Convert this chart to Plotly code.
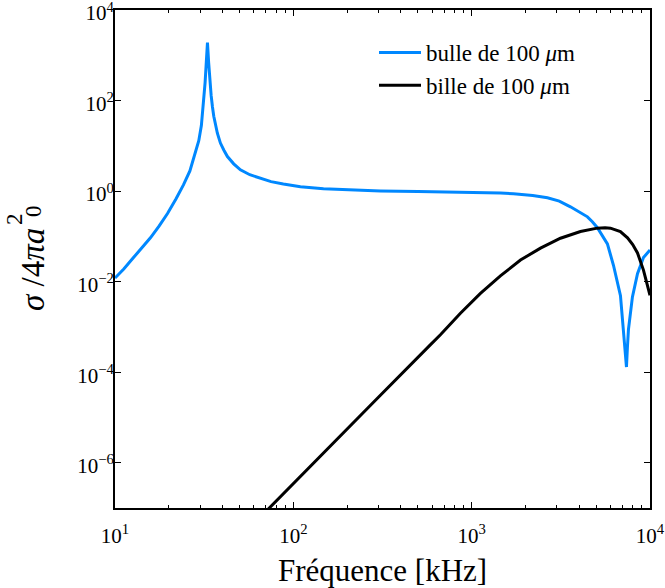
import plotly.graph_objects as go

# ---------------- data ----------------
bubble_freq_khz = [10, 11.2, 12.7, 14.1, 15.8, 17.7, 19.7, 22.0, 24.2, 26.3, 28.3, 29.5,
                   30.5, 31.3, 32.0, 32.5, 33.0, 33.5, 34.0, 34.6, 35.2, 35.8, 37.5, 39.0,
                   40.8, 42.7, 46.3, 50.5, 57, 65.3, 75, 87.9, 109.6, 147.6, 200, 308, 500,
                   731, 1000, 1450, 1715, 2200, 2660, 3100, 3580, 4000, 4460, 4750, 5070,
                   5770, 6240, 6830, 7100, 7250, 7380, 7470, 7570, 7970, 8510, 9190, 9800,
                   10000]
bubble_sigma = [0.012, 0.019, 0.034, 0.055, 0.093, 0.17, 0.32, 0.68, 1.37, 2.8, 7.0, 13,
                28, 80, 250, 700, 1900, 700, 300, 130, 72, 45, 19, 11.5,
                8.0, 5.8, 4.0, 2.95, 2.3, 1.9, 1.62, 1.44, 1.25, 1.12, 1.06, 1.01, 0.98,
                0.96, 0.94, 0.91, 0.87, 0.80, 0.71, 0.60, 0.45, 0.35, 0.27, 0.21, 0.155,
                0.068, 0.023, 0.0049, 0.00087, 0.00035, 0.00013, 0.00035, 0.00087, 0.0046,
                0.015, 0.034, 0.046, 0.05]

bead_freq_khz = [70, 100, 209, 300, 586, 668, 865, 1120, 1449, 1878, 2432, 3148, 4075,
                 5056, 5600, 6000, 6823, 7480, 8000, 8510, 9190, 9800, 10000]
bead_sigma = [8.3e-8, 3.5e-7, 6.6e-6, 2.8e-5, 4.0e-4, 6.7e-4, 2.0e-3, 5.5e-3, 0.0134,
              0.030, 0.055, 0.091, 0.128, 0.152, 0.155, 0.152, 0.128, 0.093, 0.066,
              0.043, 0.018, 0.0065, 0.005]

series_names = ["bulle de 100 <i>μ</i>m", "bille de 100 <i>μ</i>m"]

x_tick_vals = [10, 100, 1000, 10000]
x_tick_text = ["10<sup>1</sup>", "10<sup>2</sup>", "10<sup>3</sup>", "10<sup>4</sup>"]
y_tick_vals = [1e-6, 1e-4, 1e-2, 1e0, 1e2, 1e4]
y_tick_text = ["10<sup>−6</sup>", "10<sup>−4</sup>", "10<sup>−2</sup>",
               "10<sup>0</sup>", "10<sup>2</sup>", "10<sup>4</sup>"]
x_minor_vals = [m * d for d in (10, 100, 1000) for m in range(2, 10)]

FONT = "Liberation Serif"
W, H = 665, 588
ML, MR, MT, MB = 115, 15, 10, 80
PW, PH = W - ML - MR, H - MT - MB


def px_x(px):
    return (px - ML) / PW


def px_y(py):
    return 1 - (py - MT) / PH


fig = go.Figure()
fig.add_trace(go.Scatter(x=bubble_freq_khz, y=bubble_sigma, mode="lines",
                         name=series_names[0],
                         line=dict(color="#0088ff", width=3)))
fig.add_trace(go.Scatter(x=bead_freq_khz, y=bead_sigma, mode="lines",
                         name=series_names[1],
                         line=dict(color="black", width=3)))

axis_common = dict(
    type="log", showgrid=False, zeroline=False, automargin=False,
    showline=True, linecolor="black", linewidth=2, mirror="allticks",
    ticks="inside", ticklen=6, tickwidth=1, tickcolor="black",
    tickfont=dict(family=FONT, size=21, color="black"),
    ticklabeloverflow="allow",
)

fig.update_xaxes(range=[1, 4], tickmode="array", tickvals=x_tick_vals,
                 ticktext=x_tick_text, ticklabelstandoff=8,
                 minor=dict(ticks="inside", ticklen=3, tickwidth=1, tickcolor="black",
                            tickmode="array", tickvals=x_minor_vals, showgrid=False),
                 **axis_common)
fig.update_yaxes(range=[-7, 4], tickmode="array", tickvals=y_tick_vals,
                 ticktext=y_tick_text, ticklabelstandoff=-5, ticklabelshift=3,
                 **axis_common)

annotations = [
    dict(text="Fréquence [kHz]", x=0.5, y=px_y(570), xref="paper", yref="paper",
         xanchor="center", yanchor="middle", showarrow=False,
         font=dict(family=FONT, size=31, color="black")),
    dict(text="<i>σ</i> /4<i>πa</i>", x=px_x(33), y=px_y(270), xref="paper", yref="paper",
         xanchor="center", yanchor="middle", textangle=-90, showarrow=False,
         font=dict(family=FONT, size=33, color="black")),
    dict(text="2", x=px_x(14), y=px_y(219), xref="paper", yref="paper",
         xanchor="center", yanchor="middle", textangle=-90, showarrow=False,
         font=dict(family=FONT, size=23, color="black")),
    dict(text="0", x=px_x(33), y=px_y(211), xref="paper", yref="paper",
         xanchor="center", yanchor="middle", textangle=-90, showarrow=False,
         font=dict(family=FONT, size=23, color="black")),
]

fig.update_layout(
    width=W, height=H,
    margin=dict(l=ML, r=MR, t=MT, b=MB, autoexpand=False),
    plot_bgcolor="white", paper_bgcolor="white",
    annotations=annotations,
    legend=dict(x=px_x(374), y=px_y(31), xanchor="left", yanchor="top",
                bgcolor="rgba(0,0,0,0)", font=dict(family=FONT, size=23, color="black"),
                itemwidth=42),
    showlegend=True,
)

fig.write_html("out.html", config={"displayModeBar": False},
               post_script="document.body.style.margin='0';"
                           "document.body.style.padding='0';")
